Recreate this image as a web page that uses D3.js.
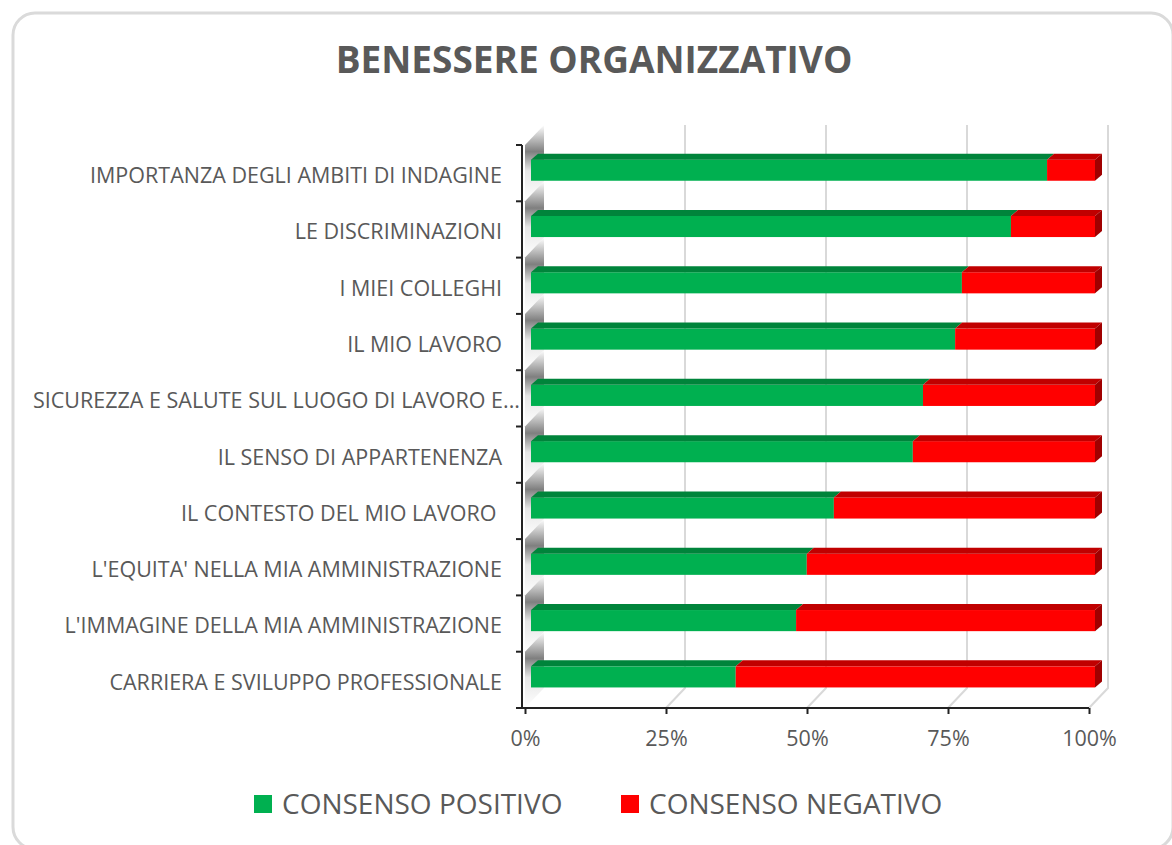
<!DOCTYPE html>
<html>
<head>
<meta charset="utf-8">
<script src="https://cdn.jsdelivr.net/npm/d3@7"></script>
<style>
  body { margin: 0; background: #fff; }
  svg { display: block; }
</style>
</head>
<body>
<script>
var w = 1172;
var h = 845;

// data, top to bottom
var categories = [
    "IMPORTANZA DEGLI AMBITI DI INDAGINE",
    "LE DISCRIMINAZIONI",
    "I MIEI COLLEGHI",
    "IL MIO LAVORO",
    "SICUREZZA E SALUTE SUL LUOGO DI LAVORO E...",
    "IL SENSO DI APPARTENENZA",
    "IL CONTESTO DEL MIO LAVORO ",
    "L'EQUITA' NELLA MIA AMMINISTRAZIONE",
    "L'IMMAGINE DELLA MIA AMMINISTRAZIONE",
    "CARRIERA E SVILUPPO PROFESSIONALE"
];
var positivo = [0.915, 0.851, 0.764, 0.752, 0.695, 0.677, 0.537, 0.489, 0.470, 0.363];
var negativo = positivo.map(function(p){ return 1 - p; });
var ticks = [0, 0.25, 0.5, 0.75, 1];
var seriesNames = ["CONSENSO POSITIVO", "CONSENSO NEGATIVO"];

var font = "'Open Sans', sans-serif";
var textColor = "#595959";

var svg = d3.select("body")
    .append("svg")
    .attr("width", w)
    .attr("height", h);

var defs = svg.append("defs");
var wallGrad = defs.append("linearGradient")
    .attr("id", "wall")
    .attr("x1", 0).attr("y1", 0).attr("x2", 0).attr("y2", 1);
wallGrad.append("stop").attr("offset", "0%").attr("stop-color", "#ffffff");
wallGrad.append("stop").attr("offset", "35%").attr("stop-color", "#5f5f5f");
wallGrad.append("stop").attr("offset", "60%").attr("stop-color", "#e0e0e0");
wallGrad.append("stop").attr("offset", "100%").attr("stop-color", "#ffffff");

// frame
svg.append("rect")
    .attr("x", 13).attr("y", 13)
    .attr("width", 1160).attr("height", 836)
    .attr("rx", 22)
    .attr("fill", "#fff")
    .attr("stroke", "#dadada")
    .attr("stroke-width", 3);

svg.append("text")
    .attr("x", 594).attr("y", 73)
    .attr("text-anchor", "middle")
    .attr("font-family", font)
    .attr("font-weight", "bold")
    .attr("font-size", 37)
    .attr("fill", textColor)
    .text("BENESSERE ORGANIZZATIVO");

var x = d3.scaleLinear().domain([0, 1]).range([525, 1089]);
var y = d3.scaleBand().domain(categories).range([145, 708]);
var bw = y.bandwidth();

// depth offsets of the 3d look
var backDx = 19, backDy = -20;
var barDx = 6;
var topDx = 7, topDy = -6;

// gridlines on the back wall and floor
svg.selectAll(".grid")
    .data(ticks.slice(1))
    .enter()
    .append("polyline")
    .attr("fill", "none")
    .attr("stroke", "#d9d9d9")
    .attr("stroke-width", 2)
    .attr("points", function(d){
        var xb = x(d) + backDx;
        return [[xb, 125], [xb, 708 + backDy], [x(d), 708]].join(" ");
    });

// side wall, shaded per band
svg.selectAll(".wall")
    .data(categories)
    .enter()
    .append("polygon")
    .attr("fill", "url(#wall)")
    .attr("opacity", 0.8)
    .attr("points", function(d){
        var x0 = x(0), y0 = y(d);
        return [[x0, y0 + bw], [x0, y0], [x0 + backDx, y0 + backDy], [x0 + backDx, y0 + bw + backDy]].join(" ");
    });

// bars
var stacks = categories.map(function(c, i){
    return [
        {cat: c, a: 0, b: positivo[i], front: "#00b050", top: "#00843b", side: "#006b30"},
        {cat: c, a: positivo[i], b: positivo[i] + negativo[i], front: "#ff0000", top: "#c00000", side: "#a00000"}
    ];
});

var rows = svg.selectAll(".row")
    .data(stacks)
    .enter()
    .append("g");

var segs = rows.selectAll("g")
    .data(function(d){ return d; })
    .enter()
    .append("g");

function barTop(d){ return y(d.cat) + bw * 0.26; }
function barH(){ return bw * 0.375; }

segs.append("rect")
    .attr("x", function(d){ return x(d.a) + barDx; })
    .attr("y", function(d){ return barTop(d); })
    .attr("width", function(d){ return x(d.b) - x(d.a); })
    .attr("height", barH())
    .attr("fill", function(d){ return d.front; });

segs.append("polygon")
    .attr("fill", function(d){ return d.top; })
    .attr("points", function(d){
        var x0 = x(d.a) + barDx, x1 = x(d.b) + barDx, t = barTop(d);
        return [[x0, t], [x1, t], [x1 + topDx, t + topDy], [x0 + topDx, t + topDy]].join(" ");
    });

segs.filter(function(d, i){ return i === 1; })
    .append("polygon")
    .attr("fill", function(d){ return d.side; })
    .attr("points", function(d){
        var x1 = x(d.b) + barDx, t = barTop(d);
        return [[x1, t], [x1 + topDx, t + topDy], [x1 + topDx, t + barH() + topDy], [x1, t + barH()]].join(" ");
    });

// axes
var xAxis = d3.axisBottom(x)
    .tickValues(ticks)
    .tickFormat(d3.format(".0%"))
    .tickSize(6)
    .tickSizeOuter(0);

var gx = svg.append("g")
    .attr("transform", "translate(0,708)")
    .call(xAxis);
gx.select(".domain").attr("stroke", "#222").attr("stroke-width", 2).attr("d", "M522,0H1089");
gx.selectAll(".tick line").attr("stroke", "#222").attr("stroke-width", 2);
gx.selectAll(".tick text")
    .attr("y", 23)
    .attr("font-family", font)
    .attr("font-size", 21.5)
    .attr("fill", textColor);

var yAxis = d3.axisLeft(y)
    .tickSize(0)
    .tickPadding(20);

var gy = svg.append("g")
    .attr("transform", "translate(522,0)")
    .call(yAxis);
gy.select(".domain").attr("stroke", "#222").attr("stroke-width", 2).attr("d", "M0,145V708");
gy.selectAll(".tick text")
    .attr("x", function(d){ return /\.\.\.$/.test(d) ? -2 : -20; })
    .attr("y", 3)
    .attr("font-family", font)
    .attr("font-size", 21.5)
    .attr("fill", textColor)
    .style("white-space", "pre");

gy.selectAll(".bound")
    .data(categories.concat(["end"]))
    .enter()
    .append("line")
    .attr("x1", -6).attr("x2", 0)
    .attr("y1", function(d, i){ return 145 + i * bw; })
    .attr("y2", function(d, i){ return 145 + i * bw; })
    .attr("stroke", "#222")
    .attr("stroke-width", 2);

// legend
var legend = svg.selectAll(".legend")
    .data(seriesNames)
    .enter()
    .append("g")
    .attr("transform", function(d, i){ return "translate(" + (i === 0 ? 254 : 621) + ",795)"; });

legend.append("rect")
    .attr("width", 18).attr("height", 18)
    .attr("fill", function(d, i){ return i === 0 ? "#00b050" : "#ff0000"; });

legend.append("text")
    .attr("x", 28).attr("y", 19)
    .attr("font-family", font)
    .attr("font-size", 28)
    .attr("fill", textColor)
    .text(function(d){ return d; });
</script>
</body>
</html>
